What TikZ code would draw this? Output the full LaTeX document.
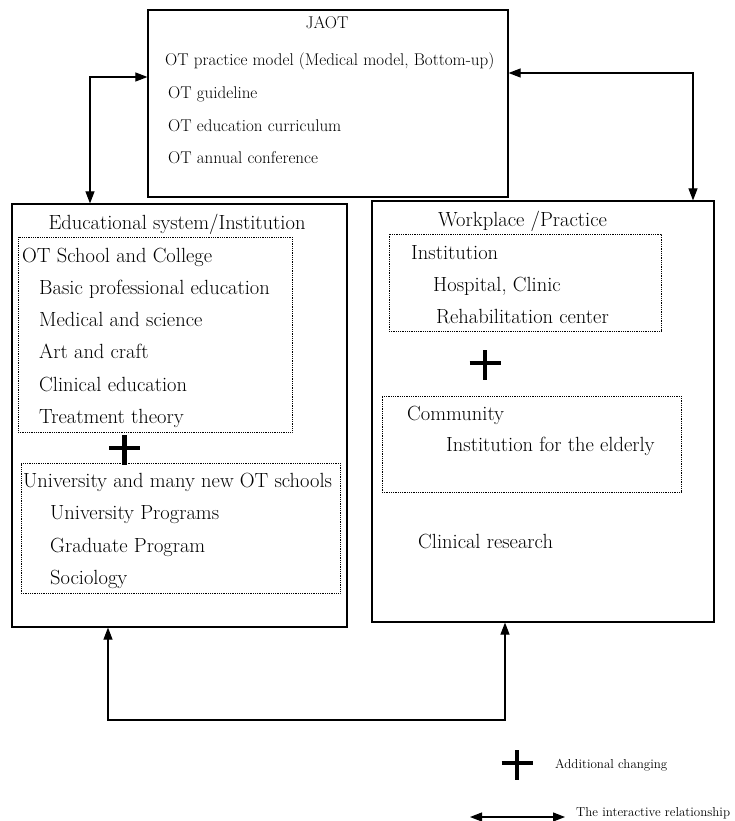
\documentclass[tikz,border=0pt]{standalone}
\usetikzlibrary{arrows.meta}
\begin{document}
\begin{tikzpicture}[x=1pt,y=-1pt,
  box/.style={draw,line width=1.2pt,inner sep=0,minimum width=#1},
  dotbox/.style={draw,line width=0.8pt,dash pattern=on 0.9pt off 0.9pt,inner sep=0},
  txt/.style={anchor=base west,inner sep=0,font=\fontsize{20.5}{24}\selectfont},
  toptxt/.style={anchor=base west,inner sep=0,font=\fontsize{17}{20}\selectfont},
  legtxt/.style={anchor=base west,inner sep=0,font=\fontsize{13}{15}\selectfont},
  conn/.style={line width=1.1pt,{Triangle[length=12pt,width=9pt]}-{Triangle[length=12pt,width=9pt]}},
  plussign/.pic={\draw[line width=4.5pt] (-15.5,0)--(15.5,0) (0,-13)--(0,17);}
]
\useasboundingbox (0,0) rectangle (735,821);

% main boxes
\node[box=360,minimum height=187] (jaot) at (328,103.5) {};
\node[box=335,minimum height=423] (edu) at (179.5,415.5) {};
\node[box=342,minimum height=421] (work) at (543,411.5) {};

% dotted boxes
\node[dotbox,minimum width=274,minimum height=195] (school) at (155,334.5) {};
\node[dotbox,minimum width=319,minimum height=130] (univ) at (180.5,528) {};
\node[dotbox,minimum width=272,minimum height=97] (inst) at (525,282.5) {};
\node[dotbox,minimum width=299,minimum height=96] (comm) at (531.5,444) {};

% JAOT texts
\node[toptxt,anchor=base] (t0) at (327,29) {JAOT};
\node[toptxt] (t1) at (165,66) {OT practice model (Medical model, Bottom-up)};
\node[toptxt] (t2) at (168,99) {OT guideline};
\node[toptxt] (t3) at (168,132) {OT education curriculum};
\node[toptxt] (t4) at (168,164) {OT annual conference};

% left texts
\node[txt,anchor=base] (e0) at (177,229) {Educational system/Institution};
\node[txt] (e1) at (22,262) {OT School and College};
\node[txt] (e2) at (39,294) {Basic professional education};
\node[txt] (e3) at (39,326) {Medical and science};
\node[txt] (e4) at (39,358) {Art and craft};
\node[txt] (e5) at (39,391) {Clinical education};
\node[txt] (e6) at (39,423) {Treatment theory};
\node[txt] (u1) at (23,487) {University and many new OT schools};
\node[txt] (u2) at (50,519) {University Programs};
\node[txt] (u3) at (50,552) {Graduate Program};
\node[txt] (u4) at (50,584) {Sociology};
\pic at (124.5,448) {plussign};

% right texts
\node[txt] (w0) at (438,226) {Workplace /Practice};
\node[txt] (w1) at (411,259) {Institution};
\node[txt] (w2) at (433,291) {Hospital, Clinic};
\node[txt] (w3) at (436,323) {Rehabilitation center};
\node[txt] (w4) at (407,420) {Community};
\node[txt] (w5) at (446,451) {Institution for the elderly};
\node[txt] (w6) at (418,548) {Clinical research};
\pic at (485,363) {plussign};

% connectors
\coordinate (la) at (90,77);
\coordinate (ra) at (693,73);
\coordinate (bl) at (108,720);
\coordinate (br) at (505,720);
\draw[conn] (jaot.west |- la) -- (la) -- (la |- edu.north);
\draw[conn] (jaot.east |- ra) -- (ra) -- (ra |- work.north);
\draw[conn] (bl |- edu.south) -- (bl) -- (br) -- (br |- work.south);

% legend
\pic at (517,763) {plussign};
\node[legtxt] (l1) at (555,768) {Additional changing};
\coordinate (a1) at (470,817);
\coordinate (a2) at (565,817);
\draw[conn] (a1) -- (a2);
\node[legtxt] (l2) at (576,816) {The interactive relationship};
\end{tikzpicture}
\end{document}
